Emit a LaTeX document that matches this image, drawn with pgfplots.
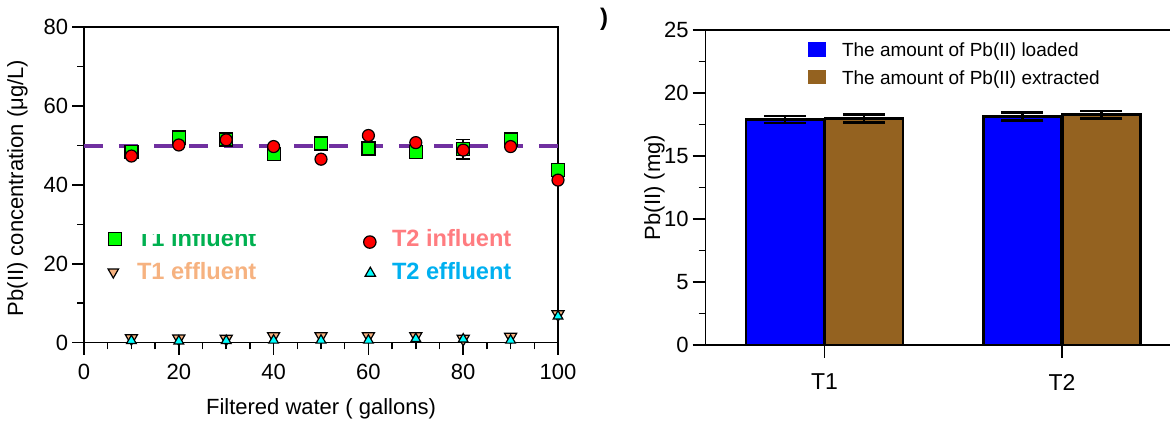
\documentclass[border=0pt]{standalone}
\usepackage{fontspec}
\setmainfont{Liberation Sans}
\usepackage{pgfplots}
\pgfplotsset{compat=1.18}
\definecolor{sqgreen}{RGB}{0,255,0}
\definecolor{txtgreen}{RGB}{0,176,80}
\definecolor{txtred}{RGB}{255,124,128}
\definecolor{triorange}{RGB}{246,178,128}
\definecolor{txtcyan}{RGB}{0,176,240}
\definecolor{tricyan}{RGB}{0,255,255}
\definecolor{dashpurple}{RGB}{112,48,160}
\definecolor{barbrown}{RGB}{148,98,32}
\begin{document}
\begin{tikzpicture}
\pgfplotsset{
  every axis/.append style={
    /pgf/number format/assume math mode=true,
    scale only axis,
    tick align=outside,
    xtick pos=left, ytick pos=left,
    axis line style={line width=0.75pt},
    tick style={line width=0.75pt, black},
    ticklabel style={font=\fontsize{11}{13}\selectfont},
    label style={font=\fontsize{11}{13}\selectfont},
  }
}
% ---------------- left panel ----------------
\begin{axis}[
  at={(42pt,39.15pt)}, anchor=south west,
  width=237pt, height=157.85pt,
  xmin=0, xmax=100, ymin=0, ymax=80,
  xtick={0,20,...,100}, ytick={0,20,...,80},
  minor x tick num=3, minor y tick num=1,
  major tick length=6pt, minor tick length=3.3pt,
  xticklabel style={yshift=-1.3pt},
  yticklabel style={xshift=1.6pt},
  clip=false,
  xlabel={Filtered water ( gallons)},
  ylabel={Pb(II) concentration (μg/L)},
  xlabel style={at={(rel axis cs:0.5,-0.229)}, anchor=base},
  ylabel style={at={(rel axis cs:-0.1287,0.49)}, anchor=base, rotate=0},
]
% dashed reference line
\addplot[dashpurple, line width=2pt, dash pattern=on 9.7pt off 7.8pt, forget plot]
  coordinates {(0,49.8) (100,49.8)};
% error bar at 80
\addplot[only marks, mark=none, forget plot,
  error bars/.cd, y dir=both, y explicit,
  error bar style={line width=0.9pt, black},
  error mark options={rotate=90, mark size=3.5pt, line width=0.9pt, black}]
  coordinates {(80,49.0) +- (0,2.5)};
% T1 influent
\addplot[only marks, mark=square*, mark size=3.25pt,
  mark options={fill=sqgreen, draw=black, line width=0.6pt}]
  coordinates {(10,48.3) (20,52.0) (30,51.5) (40,47.9) (50,50.5)
               (60,49.2) (70,48.4) (80,49.0) (90,51.5) (100,43.8)};
% T2 influent
\addplot[only marks, mark=*, mark size=3pt,
  mark options={fill=red, draw=black, line width=0.6pt}]
  coordinates {(10,47.3) (20,50.1) (30,51.4) (40,49.7) (50,46.5)
               (60,52.5) (70,50.7) (80,48.8) (90,49.7) (100,41.2)};
% T1 effluent
\addplot[only marks, mark=triangle*, mark size=3.5pt,
  mark options={rotate=180, fill=triorange, draw=black, line width=0.6pt}]
  coordinates {(10,1.14) (20,1.06) (30,0.99) (40,1.65) (50,1.65)
               (60,1.65) (70,1.65) (80,0.99) (90,1.5) (100,7.2)};
% T2 effluent
\addplot[only marks, mark=triangle*, mark size=2.8pt,
  mark options={fill=tricyan, draw=black, line width=0.6pt}]
  coordinates {(10,0.5) (20,0.4) (30,0.5) (40,0.6) (50,0.6)
               (60,0.6) (70,1.0) (80,0.9) (90,0.6) (100,6.7)};
% legend markers
\addplot[only marks, mark=square*, mark size=3.33pt,
  mark options={fill=sqgreen, draw=black, line width=0.6pt}, forget plot]
  coordinates {(6.54,26.28)};
\addplot[only marks, mark=triangle*, mark size=3pt,
  mark options={rotate=180, fill=triorange, draw=black, line width=0.6pt}, forget plot]
  coordinates {(6.18,17.9)};
\addplot[only marks, mark=*, mark size=3.1pt,
  mark options={fill=red, draw=black, line width=0.6pt}, forget plot]
  coordinates {(60.3,25.5)};
\addplot[only marks, mark=triangle*, mark size=3pt,
  mark options={fill=tricyan, draw=black, line width=0.6pt}, forget plot]
  coordinates {(60.4,17.6)};
% legend texts
\node[anchor=base west, inner sep=0pt, text=txtgreen, font=\fontsize{11.8}{13}\selectfont\bfseries]
  at (axis cs:11.1,24.5) {T1 influent};
\fill[white] (axis cs:9.8,27.5) rectangle (axis cs:38,31);
\node[anchor=base west, inner sep=0pt, text=triorange, font=\fontsize{11.8}{13}\selectfont\bfseries]
  at (axis cs:11.1,15.9) {T1 effluent};
\node[anchor=base west, inner sep=0pt, text=txtred, font=\fontsize{11.8}{13}\selectfont\bfseries]
  at (axis cs:64.9,24.3) {T2 influent};
\node[anchor=base west, inner sep=0pt, text=txtcyan, font=\fontsize{11.8}{13}\selectfont\bfseries]
  at (axis cs:64.9,15.9) {T2 effluent};
\end{axis}
% ---------------- right panel ----------------
\begin{axis}[
  at={(352.85pt,38pt)}, anchor=south west,
  width=237.5pt, height=157.5pt,
  xmin=0.5, xmax=2.5, ymin=0, ymax=25,
  xtick={1,2}, xticklabels={T1,T2},
  ytick={0,5,...,25}, minor y tick num=1,
  major tick length=6.5pt, minor tick length=3.5pt,
  xticklabel style={yshift=-4.5pt, font=\fontsize{11.5}{13}\selectfont},
  yticklabel style={xshift=1.5pt},
  ybar, bar width=39pt,
  ylabel={Pb(II) (mg)},
  ylabel style={at={(rel axis cs:-0.0962,0.5)}, anchor=base},
  legend cell align=left,
  legend style={at={(rel axis cs:0.216,0.9746)}, anchor=north west,
    draw=none, fill=none, inner sep=0pt, outer sep=0pt,
    font=\fontsize{9.5}{11}\selectfont, row sep=0pt,
    nodes={inner xsep=3.2pt, inner ysep=2.35pt, text height=7pt, text depth=2pt},
    /tikz/every odd column/.append style={column sep=4.65pt}},
  legend image code/.code={\fill[#1, draw=none] (0pt,-2.5pt) rectangle (9pt,4.7pt);},
]
\addplot[fill=blue, draw=black, line width=1.2pt, bar shift=-19.75pt,
  error bars/.cd, y dir=both, y explicit,
  error bar style={line width=1.3pt, black},
  error mark options={rotate=90, mark size=10.5pt, line width=1.3pt, black}]
  coordinates {(1,17.9) +- (0,0.28) (2,18.13) +- (0,0.3)};
\addlegendentry{The amount of Pb(II) loaded}
\addplot[fill=barbrown, draw=black, line width=1.2pt, bar shift=19.75pt,
  error bars/.cd, y dir=both, y explicit,
  error bar style={line width=1.3pt, black},
  error mark options={rotate=90, mark size=10.5pt, line width=1.3pt, black}]
  coordinates {(1,17.97) +- (0,0.33) (2,18.28) +- (0,0.29)};
\addlegendentry{The amount of Pb(II) extracted}
\end{axis}
\node[font=\fontsize{12}{14}\selectfont\bfseries, inner sep=0pt] at (302pt,201pt) {)};
\pgfresetboundingbox
\path[use as bounding box] (0,0) rectangle (585pt,210.5pt);
\end{tikzpicture}
\end{document}
